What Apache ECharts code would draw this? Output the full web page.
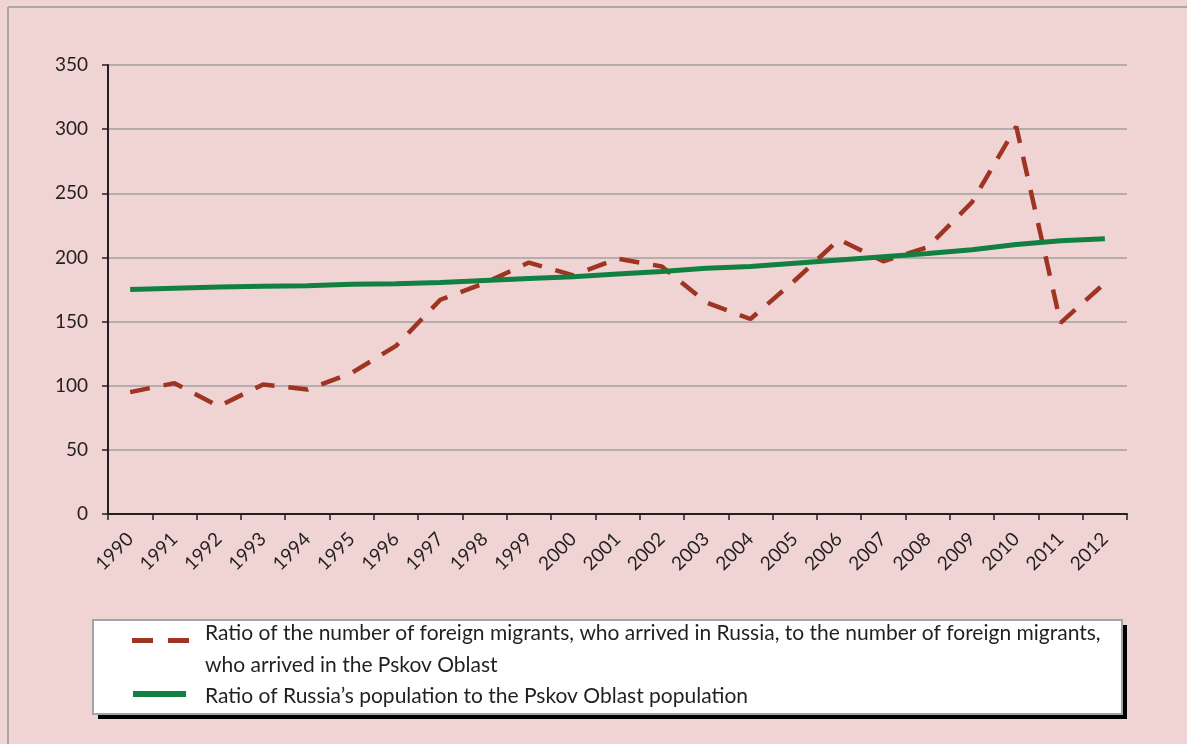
<!DOCTYPE html>
<html>
<head>
<meta charset="utf-8">
<script src="https://cdn.jsdelivr.net/npm/echarts@6/dist/echarts.min.js"></script>
<style>
html,body{margin:0;padding:0;background:#f0d4d4;}
#c{width:1187px;height:744px;}
</style>
</head>
<body>
<div id="c"></div>
<script>
const years = ['1990','1991','1992','1993','1994','1995','1996','1997','1998','1999','2000','2001','2002','2003','2004','2005','2006','2007','2008','2009','2010','2011','2012'];
const migrantsRatio = [95,102,84,101,97,110,131,167,180,196,186,199,193,165,152,182,214,197,208,243,302,149,180];
const populationRatio = [175,176,177,177.5,178,179,179.5,180.5,182,183.5,185,187,189,191.5,193,195.5,198,200.5,203,206,210,213,214.5];
const yTicks = {min:0, max:350, interval:50};
const legendLines1 = [
  'Ratio of the number of foreign migrants, who arrived in Russia, to the number of foreign migrants,',
  'who arrived in the Pskov Oblast'
];
const legendName2 = 'Ratio of Russia\u2019s population to the Pskov Oblast population';

const FONT = 'Lato';
const chart = echarts.init(document.getElementById('c'));
chart.setOption({
  backgroundColor: '#f0d4d4',
  animation: false,
  grid: {left: 108, right: 60, top: 65, bottom: 230, containLabel: false},
  xAxis: {
    type: 'category',
    data: years,
    boundaryGap: true,
    axisLine: {lineStyle: {color: '#231f20', width: 2}},
    axisTick: {show: true, length: 6, lineStyle: {color: '#231f20', width: 1.5}},
    axisLabel: {rotate: 45, margin: 22, fontFamily: FONT, fontSize: 19, color: '#231f20', interval: 0},
    splitLine: {show: false}
  },
  yAxis: {
    type: 'value',
    min: yTicks.min, max: yTicks.max, interval: yTicks.interval,
    axisLine: {show: true, lineStyle: {color: '#231f20', width: 2}},
    axisTick: {show: true, length: 6, lineStyle: {color: '#231f20', width: 1.5}},
    axisLabel: {margin: 20, fontFamily: FONT, fontSize: 19, color: '#231f20'},
    splitLine: {lineStyle: {color: '#a0a0a0', width: 1.5}}
  },
  series: [
    {
      name: legendLines1.join(' '), type: 'line', data: migrantsRatio,
      symbol: 'none', smooth: false,
      lineStyle: {color: '#9e3422', width: 4.5, type: [20, 14]}
    },
    {
      name: legendName2, type: 'line', data: populationRatio,
      symbol: 'none', smooth: false,
      lineStyle: {color: '#118040', width: 5}
    }
  ],
  graphic: [
    {type: 'line', shape: {x1: 8, y1: 7, x2: 1200, y2: 7}, style: {stroke: '#a8a8a8', lineWidth: 2}},
    {type: 'line', shape: {x1: 8, y1: 7, x2: 8, y2: 760}, style: {stroke: '#a8a8a8', lineWidth: 2}},
    {type: 'rect', shape: {x: 98, y: 625, width: 1029, height: 94}, style: {fill: '#000'}},
    {type: 'rect', shape: {x: 93, y: 620, width: 1029, height: 94}, style: {fill: '#fff', stroke: '#a3a3a8', lineWidth: 2}},
    {type: 'line', shape: {x1: 132, y1: 640.5, x2: 190, y2: 640.5}, style: {stroke: '#9e3422', lineWidth: 5, lineDash: [21, 15]}},
    {type: 'line', shape: {x1: 133, y1: 694, x2: 186, y2: 694}, style: {stroke: '#118040', lineWidth: 6}},
    {type: 'text', x: 205, y: 633, style: {text: legendLines1[0], fontFamily: FONT, fontSize: 21, fill: '#231f20', verticalAlign: 'middle'}},
    {type: 'text', x: 205, y: 665, style: {text: legendLines1[1], fontFamily: FONT, fontSize: 21, fill: '#231f20', verticalAlign: 'middle'}},
    {type: 'text', x: 205, y: 696, style: {text: legendName2, fontFamily: FONT, fontSize: 21, fill: '#231f20', verticalAlign: 'middle'}}
  ]
});
</script>
</body>
</html>
